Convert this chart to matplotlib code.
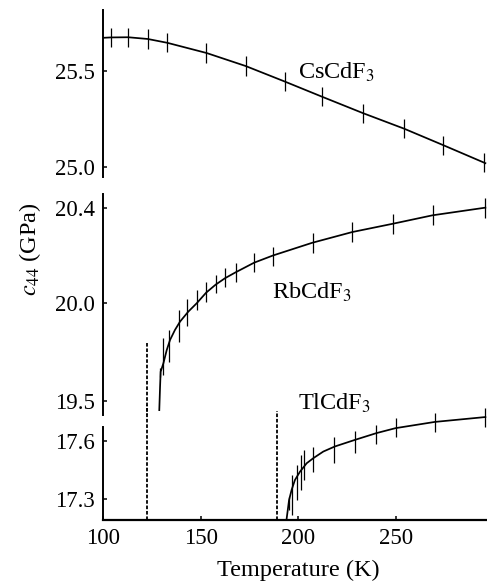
import numpy as np
import matplotlib
matplotlib.use('Agg')
import matplotlib.pyplot as plt
from matplotlib.ticker import FormatStrFormatter

plt.rcParams['font.family'] = ['Liberation Serif', 'DejaVu Serif']
plt.rcParams['mathtext.fontset'] = 'stix'

# CsCdF3 - measured points and fitted curve
cs_T = [104, 113, 123, 133, 153, 173, 193, 212, 233, 254, 274, 295]
cs_c44 = [25.676, 25.677, 25.668, 25.648, 25.595, 25.527, 25.446, 25.367, 25.281, 25.200, 25.114, 25.022]
cs_err = [0.05] * len(cs_T)
cs_fit_T = [100, 104, 113, 123, 133, 153, 173, 193, 212, 233, 254, 274, 295.5]
cs_fit_c44 = [25.674, 25.676, 25.677, 25.668, 25.648, 25.595, 25.527, 25.446, 25.367, 25.281, 25.200, 25.114, 25.020]

# RbCdF3
rb_T = [129.3, 130.8, 133.9, 139.0, 142.9, 148.3, 152.9, 157.7, 162.5, 168.1, 177.4, 187.1,
        207.3, 227.5, 248.4, 268.5, 295.2]
rb_c44 = [19.645, 19.727, 19.782, 19.884, 19.949, 20.010, 20.049, 20.080, 20.107, 20.129, 20.172, 20.197,
          20.254, 20.300, 20.332, 20.370, 20.398]
rb_err = [0.023, 0.095, 0.082, 0.082, 0.067, 0.045, 0.042, 0.038, 0.040, 0.040, 0.040, 0.040,
          0.042, 0.042, 0.042, 0.042, 0.042]
rb_fit_T = [128.9, 129.3, 129.6, 131.0, 132.7, 134.4, 136.9, 139.5, 143.7, 148.0, 152.9, 157.7,
            162.5, 168.0, 177.4, 187.0, 207.0, 227.5, 248.4, 268.5, 295.5]
rb_fit_c44 = [19.452, 19.572, 19.649, 19.692, 19.760, 19.812, 19.863, 19.906, 19.957, 20.000, 20.045, 20.078,
              20.105, 20.130, 20.170, 20.200, 20.253, 20.298, 20.333, 20.368, 20.400]

# TlCdF3
tl_T = [195.2, 196.9, 199.1, 201.3, 203.0, 207.6, 218.3, 228.9, 239.6, 249.6, 269.7, 295.2]
tl_c44 = [17.279, 17.322, 17.386, 17.438, 17.476, 17.506, 17.554, 17.593, 17.633, 17.668, 17.694, 17.720]
tl_err = [0.034, 0.103, 0.090, 0.090, 0.077, 0.064, 0.068, 0.056, 0.050, 0.050, 0.050, 0.050]
tl_fit_T = [194.0, 195.2, 196.5, 198.2, 200.8, 204.2, 207.6, 212.7, 218.6, 228.9, 240.0, 249.6, 269.7, 295.5]
tl_fit_c44 = [17.203, 17.296, 17.348, 17.399, 17.442, 17.485, 17.511, 17.545, 17.571, 17.605, 17.640,
              17.665, 17.697, 17.722]

# transition temperatures (dashed lines) for RbCdF3 and TlCdF3
rb_Tc = 122.8
rb_Tc_top = 19.796
tl_Tc = 189.2
tl_Tc_top = 17.754

x_ticks = [100, 150, 200, 250]
cs_ticks = [25.0, 25.5]
rb_ticks = [19.5, 20.0, 20.4]
tl_ticks = [17.3, 17.6]

# the middle panel axis is not evenly spaced in the original, piecewise scale
knots_v = [19.0, 19.5, 20.0, 20.4, 21.0]
knots_u = [0.0, 97.4, 194.8, 290.4, 433.8]


def fwd(v):
    return np.interp(v, knots_v, knots_u)


def inv(u):
    return np.interp(u, knots_u, knots_v)


fig = plt.figure(figsize=(4.87, 5.83), dpi=100)
ax_cs = fig.add_axes([0.2109, 0.6964, 0.789, 0.2864])
ax_rb = fig.add_axes([0.2109, 0.2882, 0.789, 0.3786])
ax_tl = fig.add_axes([0.2109, 0.1081, 0.789, 0.1973])

line_kw = dict(color='black', lw=1.25)
err_kw = dict(fmt='none', ecolor='black', elinewidth=0.9, capsize=0, clip_on=False)
dash_kw = dict(color='black', lw=1.3, ls=(0, (2, 1)))

ax_cs.plot(cs_fit_T, cs_fit_c44, **line_kw)
ax_cs.errorbar(cs_T, cs_c44, yerr=cs_err, **err_kw)
ax_cs.set_ylim(24.948, 25.819)
ax_cs.set_yticks(cs_ticks)
ax_cs.text(199.7, 25.463, 'CsCdF$_3$', fontsize=17.5, ha='left', va='baseline')

ax_rb.set_yscale('function', functions=(fwd, inv))
ax_rb.plot(rb_fit_T, rb_fit_c44, **line_kw)
ax_rb.errorbar(rb_T, rb_c44, yerr=rb_err, **err_kw)
ax_rb.set_ylim(19.427, 20.456)
ax_rb.set_yticks(rb_ticks)
ax_rb.yaxis.set_minor_locator(plt.NullLocator())
ax_rb.plot([rb_Tc, rb_Tc], [rb_Tc_top, 19.427], clip_on=False, **dash_kw)
ax_rb.text(186.5, 20.021, 'RbCdF$_3$', fontsize=17.5, ha='left', va='baseline')

ax_tl.plot(tl_fit_T, tl_fit_c44, **line_kw)
ax_tl.errorbar(tl_T, tl_c44, yerr=tl_err, **err_kw)
ax_tl.set_ylim(17.194, 17.784)
ax_tl.set_yticks(tl_ticks)
ax_tl.axvline(rb_Tc, **dash_kw)
ax_tl.plot([tl_Tc, tl_Tc], [17.194, tl_Tc_top], **dash_kw)
ax_tl.text(199.7, 17.759, 'TlCdF$_3$', fontsize=17.5, ha='left', va='baseline')
ax_tl.spines['left'].set_bounds(17.194, 17.672)
ax_tl.set_xticks(x_ticks)

for ax in [ax_cs, ax_rb, ax_tl]:
    ax.set_xlim(100, 296.3)
    ax.patch.set_alpha(0)
    ax.spines['top'].set_visible(False)
    ax.spines['right'].set_visible(False)
    ax.spines['left'].set_linewidth(1.4)
    ax.spines['bottom'].set_linewidth(1.6)
    ax.yaxis.set_major_formatter(FormatStrFormatter('%.1f'))
    ax.tick_params(direction='in', length=3, width=1.1, labelsize=16.5, pad=5.5)

for ax in [ax_cs, ax_rb]:
    ax.spines['bottom'].set_visible(False)
    ax.tick_params(axis='x', bottom=False, labelbottom=False)

ax_tl.tick_params(axis='x', pad=6)

fig.text(30.5 / 487, 1 - 249 / 583, '$c_{44}$ (GPa)', rotation=90, fontsize=17.5, ha='center', va='center')
fig.text(298 / 487, 1 - 570 / 583, 'Temperature (K)', fontsize=17.5, ha='center', va='center')

fig.savefig('out.png', dpi=100)
